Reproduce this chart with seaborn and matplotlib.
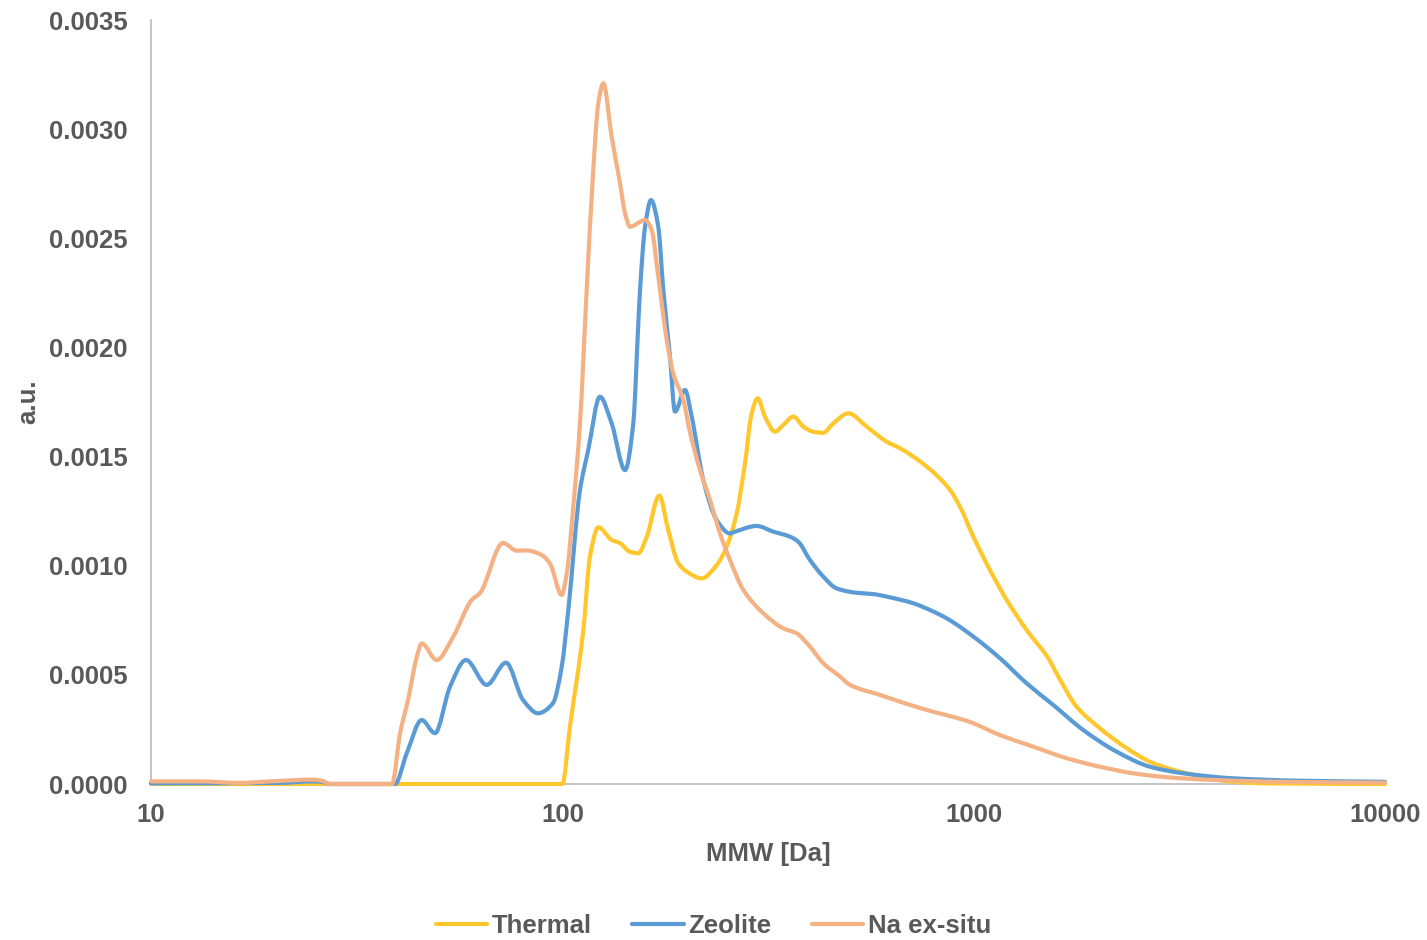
import numpy as np
import pandas as pd
import matplotlib
matplotlib.use("Agg")
import matplotlib.pyplot as plt
import seaborn as sns
from matplotlib.ticker import FixedLocator, FixedFormatter, NullLocator, FuncFormatter
from matplotlib.lines import Line2D
from matplotlib.path import Path
from matplotlib.patches import PathPatch

# Molecular-weight distributions (MMW in Da, signal in a.u.)
thermal_mmw = [10, 100, 104.4, 112.4, 116.7, 122.3, 131.8, 138.1, 146.0, 153.0, 160.4,
               172.1, 180.9, 191.4, 200.6, 218.2, 237.3, 250.9, 265.4, 278.0, 288.6,
               298.5, 310.9, 328.9, 344.5, 364.4, 385.4, 407.5, 431.0, 455.8, 495.7,
               549.5, 614.6, 662.2, 768.9, 876.0, 926.5, 998, 1095.8, 1203.1, 1345.5,
               1518.6, 1606, 1779.8, 2028.5, 2355.5, 2734.6, 3296, 4278, 5157, 10000]
thermal_au = [0, 0, 0.000266, 0.000700, 0.001041, 0.001176, 0.001118, 0.001103, 0.001064,
              0.001057, 0.001133, 0.001321, 0.001164, 0.001011, 0.000973, 0.000942,
              0.001003, 0.001087, 0.001240, 0.001469, 0.001698, 0.001767, 0.001683,
              0.001614, 0.001645, 0.001683, 0.001637, 0.001614, 0.001609, 0.001652,
              0.001698, 0.001637, 0.001568, 0.001538, 0.001454, 0.001347, 0.001270,
              0.001133, 0.000980, 0.000843, 0.000705, 0.000576, 0.000492, 0.000354,
              0.000255, 0.000164, 0.000095, 0.000049, 0.000010, 0.000003, 0]

zeolite_mmw = [10, 20.59, 24.76, 26.04, 27.24, 39.19, 41.84, 45.51, 49.02, 53.33, 58.32,
               65.49, 72.95, 80.24, 87.29, 94.92, 99.65, 103.4, 110.4, 115.6, 123.4,
               131.8, 142.0, 148.8, 153.0, 154.5, 158.9, 164.3, 171.1, 176.0, 182.7,
               187.9, 198.7, 206.3, 220.1, 237.3, 255.6, 262.9, 296.9, 325.8, 357.6,
               374.6, 400.0, 431.0, 464.5, 519.5, 570.2, 626.1, 713.3, 783.1, 859.8,
               1007, 1158.8, 1345.5, 1561.6, 1847.5, 2226.5, 2683.7, 3232.5, 4278,
               6214, 10000]
zeolite_au = [0.000003, 0.000005, 0.000012, 0.000010, 0, 0, 0.000140, 0.000293, 0.000233,
              0.000446, 0.000568, 0.000454, 0.000556, 0.000385, 0.000324, 0.000371,
              0.000537, 0.000797, 0.001347, 0.001530, 0.001774, 0.001652, 0.001438,
              0.001654, 0.002110, 0.002263, 0.002553, 0.002675, 0.002553, 0.002263,
              0.001957, 0.001706, 0.001805, 0.001683, 0.001393, 0.001209, 0.001148,
              0.001156, 0.001182, 0.001156, 0.001133, 0.001110, 0.001026, 0.000950,
              0.000896, 0.000876, 0.000870, 0.000855, 0.000828, 0.000797, 0.000759,
              0.000670, 0.000576, 0.000461, 0.000362, 0.000247, 0.000148, 0.000079,
              0.000049, 0.000026, 0.000015, 0.000010]

na_mmw = [10, 13.15, 16.46, 19.47, 24.76, 26.04, 27.24, 38.54, 40.30, 42.15, 44.25, 45.51,
          49.50, 54.23, 60.22, 63.07, 71.75, 77.48, 81.93, 89.10, 93.33, 99.65, 102.5,
          106.3, 110.4, 114.6, 118.9, 122.3, 125.8, 131.8, 138.1, 142.0, 146.0, 158.9,
          164.9, 171.1, 179.4, 186.1, 196.8, 204.4, 216.1, 228.6, 241.7, 255.6, 275.4,
          308.1, 344.5, 371.3, 400.0, 431.0, 473.3, 500.5, 592.0, 740.6, 979.7, 1158.8,
          1396.4, 1683.6, 2028.5, 2444, 2946, 3898, 5659, 10000]
na_au = [0.000012, 0.000012, 0.000005, 0.000012, 0.000020, 0.000015, 0, 0, 0.000230,
         0.000385, 0.000580, 0.000644, 0.000568, 0.000673, 0.000843, 0.000875, 0.001104,
         0.001069, 0.001070, 0.001049, 0.001010, 0.000866, 0.000965, 0.001270, 0.001653,
         0.002263, 0.002813, 0.003118, 0.003210, 0.002965, 0.002753, 0.002616, 0.002553,
         0.002584, 0.002538, 0.002324, 0.002034, 0.001880, 0.001760, 0.001610, 0.001438,
         0.001301, 0.001148, 0.001026, 0.000889, 0.000782, 0.000713, 0.000690, 0.000629,
         0.000553, 0.000492, 0.000454, 0.000408, 0.000348, 0.000284, 0.000224, 0.000171,
         0.000118, 0.000079, 0.000049, 0.000031, 0.000018, 0.000010, 0.000006]

series_names = ["Thermal", "Zeolite", "Na ex-situ"]
series_colors = ["#FFC72C", "#5B9BD5", "#F4B183"]

y_ticks = [0.0, 0.0005, 0.0010, 0.0015, 0.0020, 0.0025, 0.0030, 0.0035]
x_ticks = [10, 100, 1000, 10000]
x_tick_labels = ["10", "100", "1000", "10000"]

frames = []
for name, xs, ys in zip(series_names,
                        [thermal_mmw, zeolite_mmw, na_mmw],
                        [thermal_au, zeolite_au, na_au]):
    frames.append(pd.DataFrame({"MMW": xs, "au": ys, "Sample": name}))
df = pd.concat(frames, ignore_index=True)


def smooth_path(x, y):
    """Monotone cubic Bezier path through the points, built in log-x space."""
    u = np.log10(np.asarray(x, float))
    v = np.asarray(y, float)
    h = np.diff(u)
    delta = np.diff(v) / h
    d = np.zeros_like(v)
    for k in range(1, len(v) - 1):
        if delta[k - 1] * delta[k] > 0:
            w1 = 2 * h[k] + h[k - 1]
            w2 = h[k] + 2 * h[k - 1]
            d[k] = (w1 + w2) / (w1 / delta[k - 1] + w2 / delta[k])
    d[0] = delta[0] if delta[0] * (delta[1] if len(delta) > 1 else delta[0]) > 0 else 0
    d[-1] = delta[-1] if delta[-1] * delta[-2] > 0 else 0
    verts = [(u[0], v[0])]
    codes = [Path.MOVETO]
    for k in range(len(v) - 1):
        verts += [(u[k] + h[k] / 3, v[k] + d[k] * h[k] / 3),
                  (u[k + 1] - h[k] / 3, v[k + 1] - d[k + 1] * h[k] / 3),
                  (u[k + 1], v[k + 1])]
        codes += [Path.CURVE4] * 3
    verts = np.array(verts)
    verts[:, 0] = 10 ** verts[:, 0]
    return Path(verts, codes)


sns.set_style("white")
plt.rcParams["font.family"] = ["Liberation Sans", "DejaVu Sans"]
plt.rcParams["font.weight"] = "bold"
text_color = "#595959"
axis_color = "#BFBFBF"
line_width = 3.0

fig = plt.figure(figsize=(14.27, 9.40), dpi=100)
ax = fig.add_axes([151 / 1427, 1 - 784 / 940, (1385 - 151) / 1427, (784 - 20) / 940])

sns.lineplot(data=df, x="MMW", y="au", hue="Sample", hue_order=series_names,
             palette=series_colors, estimator=None, sort=False, linewidth=line_width,
             legend=False, ax=ax)

ax.set_xscale("log")
ax.set_xlim(10, 10000)
ax.set_ylim(0, 0.0035)

# Render each seaborn line as a smoothed curve through the same points
for line in list(ax.get_lines()):
    xy = line.get_xydata()
    patch = PathPatch(smooth_path(xy[:, 0], xy[:, 1]), fill=False,
                      edgecolor=line.get_color(), linewidth=line_width,
                      capstyle="round", joinstyle="round", clip_on=False,
                      zorder=line.get_zorder())
    ax.add_patch(patch)
    line.remove()

ax.xaxis.set_major_locator(FixedLocator(x_ticks))
ax.xaxis.set_major_formatter(FixedFormatter(x_tick_labels))
ax.xaxis.set_minor_locator(NullLocator())
ax.yaxis.set_major_locator(FixedLocator(y_ticks))
ax.yaxis.set_major_formatter(FuncFormatter(lambda val, pos: f"{val:.4f}"))

for side in ["top", "right"]:
    ax.spines[side].set_visible(False)
for side in ["left", "bottom"]:
    ax.spines[side].set_color(axis_color)
    ax.spines[side].set_linewidth(1.3)
    ax.spines[side].set_zorder(0.5)

ax.tick_params(axis="both", which="major", length=6, width=1.3, color=axis_color,
               labelsize=18.5, labelcolor=text_color, direction="out")
ax.tick_params(axis="y", pad=11)
ax.tick_params(axis="x", pad=8)
for lab in ax.get_xticklabels() + ax.get_yticklabels():
    lab.set_fontweight("bold")

ax.set_xlabel("MMW [Da]", fontsize=18.5, fontweight="bold", color=text_color)
ax.set_ylabel("a.u.", fontsize=18.5, fontweight="bold", color=text_color)
ax.xaxis.set_label_coords(0.5, (784 - 842) / 764)
ax.yaxis.set_label_coords((40 - 151) / 1234, 0.5)

handles = [Line2D([0], [0], color=c, lw=line_width) for c in series_colors]
fig.legend(handles, series_names, loc="center", bbox_to_anchor=(0.5, 1 - 926 / 940),
           ncol=3, frameon=False, handlelength=2.0, handletextpad=0.2,
           columnspacing=1.55, prop={"size": 18.5, "weight": "bold"},
           labelcolor=text_color)

ax.set_facecolor("white")
fig.patch.set_facecolor("white")
fig.savefig("out.png", dpi=100)
